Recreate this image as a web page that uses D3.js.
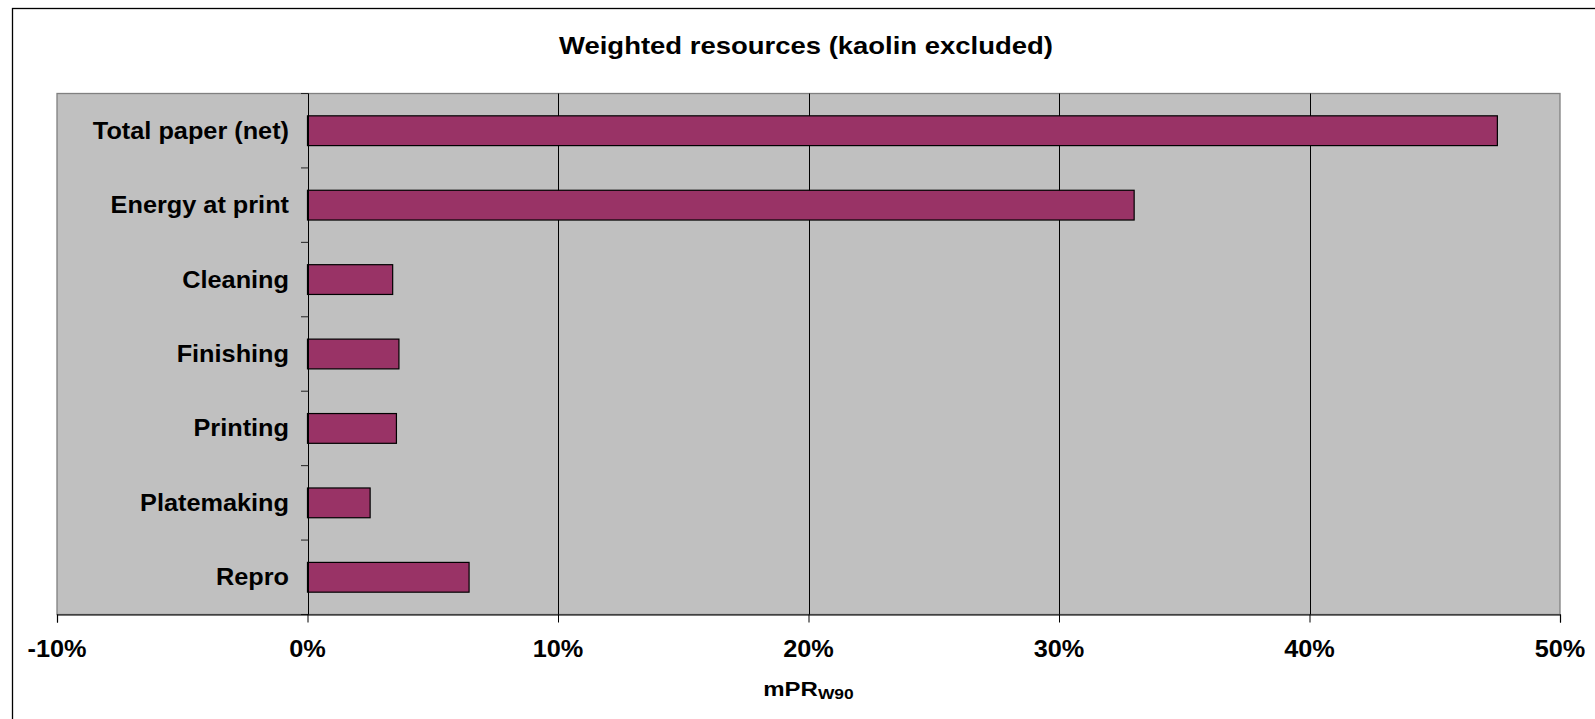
<!DOCTYPE html>
<html>
<head>
<meta charset="utf-8">
<script src="https://cdn.jsdelivr.net/npm/d3@7"></script>
<style>
  html, body { margin: 0; padding: 0; background: #ffffff; }
  svg { display: block; }
  text { font-family: "Liberation Sans", Arial, Helvetica, sans-serif; font-weight: bold; fill: #000; }
</style>
</head>
<body>
<svg id="chart" width="1595" height="719"></svg>
<script>
// ---- data ----
const chartTitle = "Weighted resources (kaolin excluded)";
const categories = ["Total paper (net)", "Energy at print", "Cleaning", "Finishing", "Printing", "Platemaking", "Repro"];
const values = [47.5, 33.0, 3.4, 3.65, 3.55, 2.5, 6.45];   // percent
const tickValues = [-10, 0, 10, 20, 30, 40, 50];
const tickLabels = ["-10%", "0%", "10%", "20%", "30%", "40%", "50%"];
const axisTitleMain = "mPR";
const axisTitleSub = "W90";

// ---- layout ----
const W = 1595, H = 719;
const plot = { left: 57, right: 1560, top: 93.5, bottom: 614.5 };
const svg = d3.select("#chart");

// outer chart frame (top & left edges visible)
svg.append("rect")
  .attr("x", 12.5).attr("y", 8.5)
  .attr("width", W + 20).attr("height", H + 20)
  .attr("fill", "#fff").attr("stroke", "#000").attr("stroke-width", 1.3);

const x = d3.scaleLinear().domain([-10, 50]).range([plot.left, plot.right]);
const y = d3.scaleBand().domain(categories)
  .range([plot.top, plot.bottom]).paddingInner(0.6).paddingOuter(0.3);

// plot area
svg.append("rect")
  .attr("x", plot.left).attr("y", plot.top)
  .attr("width", plot.right - plot.left).attr("height", plot.bottom - plot.top)
  .attr("fill", "#c0c0c0").attr("stroke", "#808080").attr("stroke-width", 1.3);

// gridlines
svg.append("g").selectAll("line")
  .data(tickValues.filter(v => v > 0 && v < 50))
  .join("line")
  .attr("x1", d => Math.round(x(d)) + 0.5).attr("x2", d => Math.round(x(d)) + 0.5)
  .attr("y1", plot.top).attr("y2", plot.bottom)
  .attr("stroke", "#000").attr("stroke-width", 1);

// bars
svg.append("g").selectAll("rect")
  .data(categories)
  .join("rect")
  .attr("x", x(0))
  .attr("y", d => y(d))
  .attr("width", (d, i) => x(values[i]) - x(0))
  .attr("height", y.bandwidth())
  .attr("fill", "#993366")
  .attr("stroke", "#000").attr("stroke-width", 1.2);

// category axis at zero
const x0 = Math.round(x(0)) + 0.5;
svg.append("line")
  .attr("x1", x0).attr("x2", x0)
  .attr("y1", plot.top).attr("y2", plot.bottom)
  .attr("stroke", "#000").attr("stroke-width", 1);
const boundaries = d3.range(categories.length + 1).map(k => plot.top + k * (plot.bottom - plot.top) / categories.length);
svg.append("g").selectAll("line")
  .data(boundaries)
  .join("line")
  .attr("x1", x0 - 7.5).attr("x2", x0)
  .attr("y1", d => d).attr("y2", d => d)
  .attr("stroke", "#222").attr("stroke-width", 1);

// category labels
const labelSX = 1.1, labelFS = 23;
svg.append("g").selectAll("g")
  .data(categories)
  .join("g")
  .attr("transform", d => `translate(289,${y(d) + y.bandwidth() / 2 + 8}) scale(${labelSX},1)`)
  .append("text")
  .attr("text-anchor", "end")
  .attr("font-size", labelFS)
  .text(d => d);

// value axis (bottom)
const xAxis = d3.axisBottom(x).tickValues(tickValues).tickSize(8).tickFormat(() => "");
const gx = svg.append("g").attr("transform", `translate(0,${plot.bottom})`).call(xAxis);
gx.select(".domain").attr("stroke", "#000").attr("stroke-width", 1.2);
gx.selectAll(".tick line").attr("stroke", "#000").attr("stroke-width", 1);

svg.append("g").selectAll("g")
  .data(tickValues)
  .join("g")
  .attr("transform", d => `translate(${x(d)},657) scale(${labelSX},1)`)
  .append("text")
  .attr("text-anchor", "middle")
  .attr("font-size", labelFS)
  .text((d, i) => tickLabels[i]);

// title
svg.append("g")
  .attr("transform", `translate(806,53.5) scale(1.145,1)`)
  .append("text")
  .attr("text-anchor", "middle")
  .attr("font-size", 24)
  .text(chartTitle);

// axis title with subscript
const at = svg.append("g").attr("transform", `translate(808.5,695.5) scale(1.2,1)`)
  .append("text").attr("text-anchor", "middle").attr("font-size", 20);
at.append("tspan").text(axisTitleMain);
at.append("tspan").attr("font-size", 14.5).attr("dy", 3).text(axisTitleSub);
</script>
</body>
</html>
